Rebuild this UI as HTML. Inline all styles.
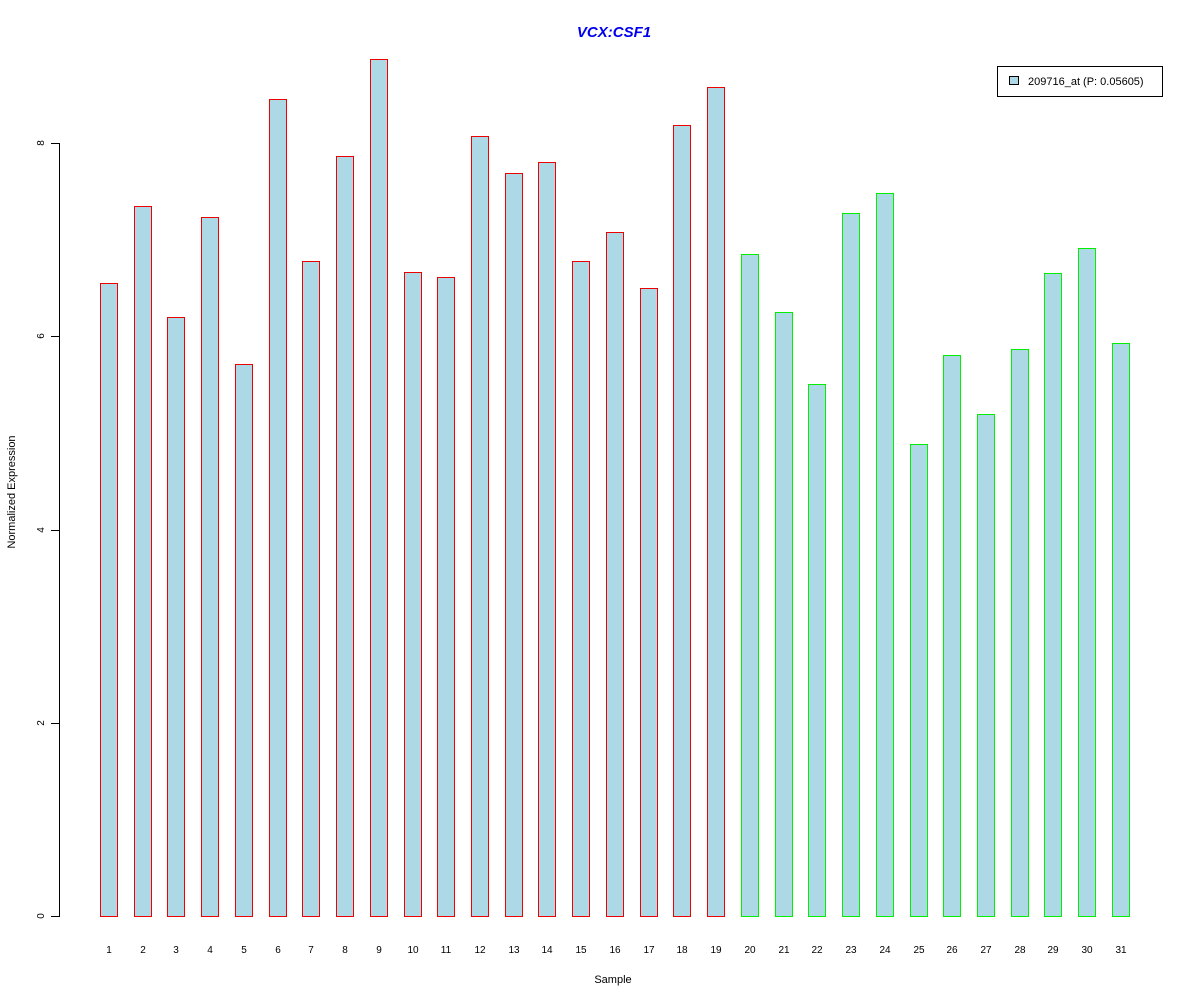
<!DOCTYPE html>
<html><head><meta charset="utf-8"><style>
html,body{margin:0;padding:0;background:#fff;}
svg{display:block;font-family:"Liberation Sans",Arial,sans-serif;}
</style></head><body>
<svg width="1200" height="1000" viewBox="0 0 1200 1000" xmlns="http://www.w3.org/2000/svg">
<rect width="1200" height="1000" fill="#fff"/>
<text x="614" y="37" text-anchor="middle" font-size="15" font-weight="bold" font-style="italic" fill="#0000ee">VCX:CSF1</text>
<g stroke="#000" stroke-width="1" fill="none" shape-rendering="crispEdges">
<line x1="59.5" y1="143" x2="59.5" y2="917"/>
<line x1="51" y1="916.5" x2="59.5" y2="916.5"/>
<line x1="51" y1="723.5" x2="59.5" y2="723.5"/>
<line x1="51" y1="530.5" x2="59.5" y2="530.5"/>
<line x1="51" y1="336.5" x2="59.5" y2="336.5"/>
<line x1="51" y1="143.5" x2="59.5" y2="143.5"/>
</g>
<g font-size="10" fill="#000" text-anchor="middle">
<text transform="translate(44,916) rotate(-90)">0</text>
<text transform="translate(44,723) rotate(-90)">2</text>
<text transform="translate(44,530) rotate(-90)">4</text>
<text transform="translate(44,336) rotate(-90)">6</text>
<text transform="translate(44,143) rotate(-90)">8</text>
<text transform="translate(15,492) rotate(-90)" font-size="11">Normalized Expression</text>
<text x="613" y="983" font-size="11">Sample</text>
</g>
<g id="bars" fill="#add8e6" stroke-width="1" shape-rendering="crispEdges"></g>
<g id="labels" font-size="10" text-anchor="middle" fill="#000"></g>
<rect x="997.5" y="66.5" width="165" height="30" fill="#fff" stroke="#000" shape-rendering="crispEdges"/>
<rect x="1009.5" y="76.5" width="9" height="8" fill="#add8e6" stroke="#000" shape-rendering="crispEdges"/>
<text x="1028" y="85" font-size="11" fill="#000">209716_at (P: 0.05605)</text>
<script>
var tops=[283,206,317,217,364,99,261,156,59,272,277,136,173,162,261,232,288,125,87,254,312,384,213,193,444,355,414,349,273,248,343];
var b=document.getElementById('bars'),l=document.getElementById('labels'),ns="http://www.w3.org/2000/svg";
for(var i=0;i<31;i++){var x=Math.round(100+i*33.73)+0.5;
var r=document.createElementNS(ns,'rect');r.setAttribute('x',x);r.setAttribute('y',tops[i]+0.5);r.setAttribute('width',17);r.setAttribute('height',916-tops[i]);r.setAttribute('stroke',i<19?'#ee0000':'#00ee00');b.appendChild(r);
var t=document.createElementNS(ns,'text');t.setAttribute('x',x+8.5);t.setAttribute('y',953);t.textContent=i+1;l.appendChild(t);}
</script>
</svg>
</body></html>
